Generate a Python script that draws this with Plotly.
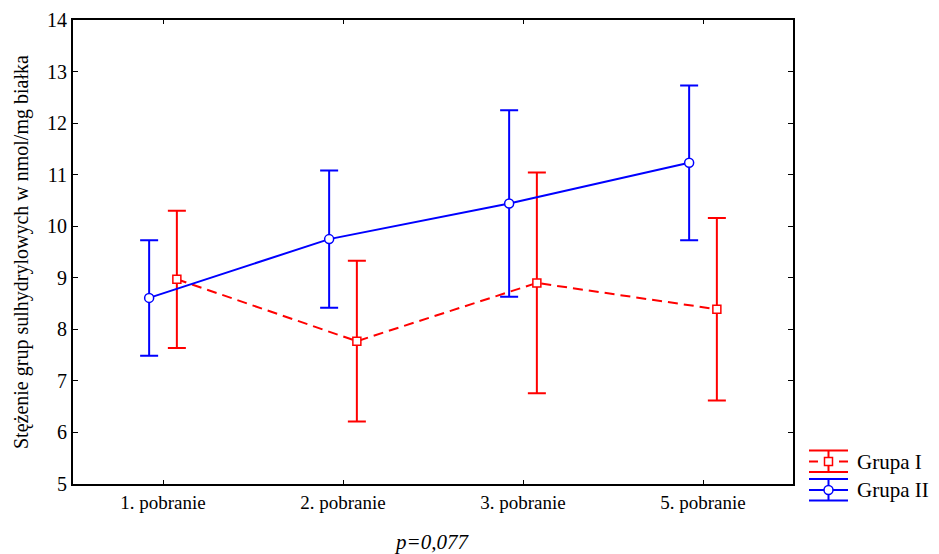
import plotly.graph_objects as go

categories = ["1. pobranie", "2. pobranie", "3. pobranie", "5. pobranie"]
grupa1_mean = [8.97, 7.77, 8.90, 8.39]
grupa1_err = [1.33, 1.56, 2.14, 1.77]
grupa2_mean = [8.61, 9.75, 10.44, 11.23]
grupa2_err = [1.12, 1.33, 1.81, 1.50]

RED = "#ff0000"
BLUE = "#0000ff"
FONT = "Liberation Serif"

pos = list(range(len(categories)))
off = 0.077

fig = go.Figure()

fig.add_trace(go.Scatter(
    x=[p + off for p in pos], y=grupa1_mean, mode="lines+markers", name="Grupa I",
    line=dict(color=RED, width=2, dash="10px,6px"),
    marker=dict(symbol="square", size=8, color="white", line=dict(color=RED, width=1.5)),
    error_y=dict(type="data", array=grupa1_err, color=RED, thickness=2, width=9),
    showlegend=False))

fig.add_trace(go.Scatter(
    x=[p - off for p in pos], y=grupa2_mean, mode="lines+markers", name="Grupa II",
    line=dict(color=BLUE, width=2),
    marker=dict(symbol="circle", size=9, color="white", line=dict(color=BLUE, width=1.5)),
    error_y=dict(type="data", array=grupa2_err, color=BLUE, thickness=2, width=9),
    showlegend=False))

# plot area in pixels: left 73, right 793, top 20, bottom 484
def px(x):
    return (x - 73) / 720.0

def py(y):
    return (484 - y) / 464.0

shapes = []
annotations = []

# hand-drawn legend with error-bar glyphs
for col, yc, dash, sym, label in [(RED, 461.5, "dash", "square", "Grupa I"),
                                   (BLUE, 490, "solid", "circle", "Grupa II")]:
    top, bot = yc - 11, yc + 10.5
    for yy in (top, bot):
        shapes.append(dict(type="line", xref="paper", yref="paper",
                           x0=px(809), x1=px(848), y0=py(yy), y1=py(yy),
                           line=dict(color=col, width=2)))
    shapes.append(dict(type="line", xref="paper", yref="paper",
                       x0=px(828.5), x1=px(828.5), y0=py(top), y1=py(bot),
                       line=dict(color=col, width=2)))
    if dash == "dash":
        for a, b in [(809, 818), (839, 848)]:
            shapes.append(dict(type="line", xref="paper", yref="paper",
                               x0=px(a), x1=px(b), y0=py(yc), y1=py(yc),
                               line=dict(color=col, width=2)))
    else:
        shapes.append(dict(type="line", xref="paper", yref="paper",
                           x0=px(809), x1=px(848), y0=py(yc), y1=py(yc),
                           line=dict(color=col, width=2)))
    if sym == "square":
        shapes.append(dict(type="rect", xref="paper", yref="paper",
                           x0=px(824.5), x1=px(832.5), y0=py(yc - 4), y1=py(yc + 4),
                           fillcolor="white", line=dict(color=col, width=1.5)))
    else:
        shapes.append(dict(type="circle", xref="paper", yref="paper",
                           x0=px(824), x1=px(833), y0=py(yc - 4.5), y1=py(yc + 4.5),
                           fillcolor="white", line=dict(color=col, width=1.5)))
    annotations.append(dict(xref="paper", yref="paper", x=px(855), y=py(yc),
                            xanchor="left", yanchor="middle", text=label, showarrow=False,
                            font=dict(family=FONT, size=21, color="black")))

annotations.append(dict(xref="paper", yref="paper", x=px(431), y=py(542),
                        xanchor="center", yanchor="middle", text="<i>p=0,077</i>",
                        showarrow=False, font=dict(family=FONT, size=21, color="black")))

# y axis title as a rotated annotation so it sits where the original has it
annotations.append(dict(xref="paper", yref="paper", x=px(21), y=py(252),
                        xanchor="center", yanchor="middle", textangle=-90,
                        text="Stężenie grup sulhydrylowych w nmol/mg białka",
                        showarrow=False, font=dict(family=FONT, size=20, color="black")))

fig.update_layout(
    width=939, height=554,
    margin=dict(l=73, r=146, t=20, b=70),
    paper_bgcolor="white", plot_bgcolor="white",
    font=dict(family=FONT, size=16, color="black"),
    shapes=shapes, annotations=annotations,
    showlegend=False,
    xaxis=dict(range=[-0.5, 3.5], tickvals=pos, ticktext=categories,
               showgrid=False, zeroline=False, showline=True, linecolor="black",
               linewidth=2, mirror="ticks", ticks="inside", ticklen=4,
               tickcolor="black", tickfont=dict(family=FONT, size=19),
               automargin=False),
    yaxis=dict(range=[5, 14], dtick=1, showgrid=False, zeroline=False,
               showline=True, linecolor="black", linewidth=2, mirror="ticks",
               ticks="inside", ticklen=5, tickcolor="black",
               tickfont=dict(family=FONT, size=20), automargin=False),
)

# drop the default page margin so the 939x554 figure fills the window exactly
fig.write_html("out.html", config={"displayModeBar": False},
               post_script="document.body.style.margin='0';document.body.style.overflow='hidden';")
